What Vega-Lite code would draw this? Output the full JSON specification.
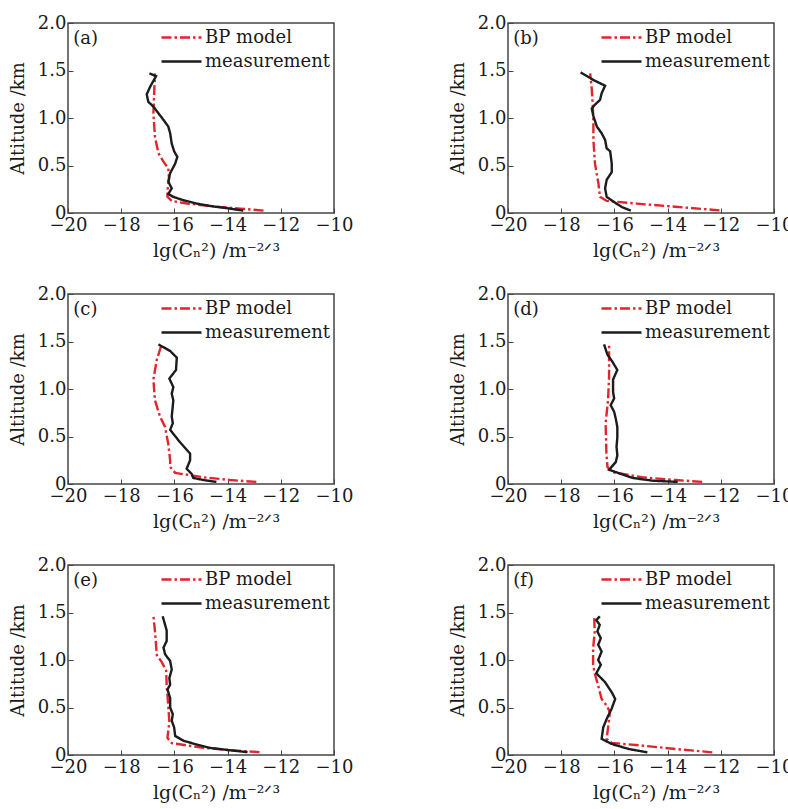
{
  "$schema": "https://vega.github.io/schema/vega-lite/v6.json",
  "padding": {"left": 8, "top": 13, "right": 5, "bottom": 5},
  "background": "white",
  "bounds": "flush",
  "columns": 2,
  "spacing": {"row": 81, "column": 174},
  "data": {"values": [
    {"p":"a","s":"BP model","alt":1.47,"x":-16.73},
    {"p":"a","s":"BP model","alt":1.05,"x":-16.79},
    {"p":"a","s":"BP model","alt":0.80,"x":-16.73},
    {"p":"a","s":"BP model","alt":0.63,"x":-16.60},
    {"p":"a","s":"BP model","alt":0.54,"x":-16.41},
    {"p":"a","s":"BP model","alt":0.47,"x":-16.23},
    {"p":"a","s":"BP model","alt":0.36,"x":-16.20},
    {"p":"a","s":"BP model","alt":0.24,"x":-16.26},
    {"p":"a","s":"BP model","alt":0.17,"x":-16.26},
    {"p":"a","s":"BP model","alt":0.127,"x":-16.10},
    {"p":"a","s":"BP model","alt":0.10,"x":-15.54},
    {"p":"a","s":"BP model","alt":0.063,"x":-14.28},
    {"p":"a","s":"BP model","alt":0.046,"x":-13.53},
    {"p":"a","s":"BP model","alt":0.025,"x":-12.65},
    {"p":"a","s":"measurement","alt":1.47,"x":-16.94},
    {"p":"a","s":"measurement","alt":1.44,"x":-16.69},
    {"p":"a","s":"measurement","alt":1.33,"x":-16.91},
    {"p":"a","s":"measurement","alt":1.25,"x":-17.04},
    {"p":"a","s":"measurement","alt":1.17,"x":-16.98},
    {"p":"a","s":"measurement","alt":1.12,"x":-16.79},
    {"p":"a","s":"measurement","alt":1.05,"x":-16.60},
    {"p":"a","s":"measurement","alt":0.98,"x":-16.41},
    {"p":"a","s":"measurement","alt":0.91,"x":-16.23},
    {"p":"a","s":"measurement","alt":0.84,"x":-16.16},
    {"p":"a","s":"measurement","alt":0.73,"x":-16.10},
    {"p":"a","s":"measurement","alt":0.65,"x":-16.01},
    {"p":"a","s":"measurement","alt":0.59,"x":-15.89},
    {"p":"a","s":"measurement","alt":0.52,"x":-15.97},
    {"p":"a","s":"measurement","alt":0.42,"x":-16.16},
    {"p":"a","s":"measurement","alt":0.33,"x":-16.23},
    {"p":"a","s":"measurement","alt":0.26,"x":-16.10},
    {"p":"a","s":"measurement","alt":0.20,"x":-16.23},
    {"p":"a","s":"measurement","alt":0.17,"x":-16.04},
    {"p":"a","s":"measurement","alt":0.134,"x":-15.66},
    {"p":"a","s":"measurement","alt":0.099,"x":-15.16},
    {"p":"a","s":"measurement","alt":0.074,"x":-14.66},
    {"p":"a","s":"measurement","alt":0.046,"x":-13.91},
    {"p":"a","s":"measurement","alt":0.025,"x":-13.41},

    {"p":"b","s":"BP model","alt":1.47,"x":-16.91},
    {"p":"b","s":"BP model","alt":1.30,"x":-16.85},
    {"p":"b","s":"BP model","alt":1.12,"x":-16.81},
    {"p":"b","s":"BP model","alt":0.95,"x":-16.79},
    {"p":"b","s":"BP model","alt":0.77,"x":-16.79},
    {"p":"b","s":"BP model","alt":0.52,"x":-16.73},
    {"p":"b","s":"BP model","alt":0.31,"x":-16.60},
    {"p":"b","s":"BP model","alt":0.17,"x":-16.54},
    {"p":"b","s":"BP model","alt":0.127,"x":-16.29},
    {"p":"b","s":"BP model","alt":0.099,"x":-15.16},
    {"p":"b","s":"BP model","alt":0.07,"x":-13.91},
    {"p":"b","s":"BP model","alt":0.028,"x":-12.05},
    {"p":"b","s":"measurement","alt":1.48,"x":-17.27},
    {"p":"b","s":"measurement","alt":1.40,"x":-16.79},
    {"p":"b","s":"measurement","alt":1.34,"x":-16.35},
    {"p":"b","s":"measurement","alt":1.26,"x":-16.48},
    {"p":"b","s":"measurement","alt":1.19,"x":-16.54},
    {"p":"b","s":"measurement","alt":1.14,"x":-16.73},
    {"p":"b","s":"measurement","alt":1.10,"x":-16.85},
    {"p":"b","s":"measurement","alt":1.02,"x":-16.79},
    {"p":"b","s":"measurement","alt":0.91,"x":-16.66},
    {"p":"b","s":"measurement","alt":0.84,"x":-16.48},
    {"p":"b","s":"measurement","alt":0.77,"x":-16.35},
    {"p":"b","s":"measurement","alt":0.68,"x":-16.29},
    {"p":"b","s":"measurement","alt":0.65,"x":-16.16},
    {"p":"b","s":"measurement","alt":0.52,"x":-16.10},
    {"p":"b","s":"measurement","alt":0.43,"x":-16.10},
    {"p":"b","s":"measurement","alt":0.35,"x":-16.29},
    {"p":"b","s":"measurement","alt":0.26,"x":-16.35},
    {"p":"b","s":"measurement","alt":0.17,"x":-16.29},
    {"p":"b","s":"measurement","alt":0.12,"x":-16.04},
    {"p":"b","s":"measurement","alt":0.063,"x":-15.72},
    {"p":"b","s":"measurement","alt":0.025,"x":-15.38},

    {"p":"c","s":"BP model","alt":1.47,"x":-16.48},
    {"p":"c","s":"BP model","alt":1.31,"x":-16.66},
    {"p":"c","s":"BP model","alt":1.10,"x":-16.79},
    {"p":"c","s":"BP model","alt":0.88,"x":-16.73},
    {"p":"c","s":"BP model","alt":0.71,"x":-16.54},
    {"p":"c","s":"BP model","alt":0.60,"x":-16.35},
    {"p":"c","s":"BP model","alt":0.42,"x":-16.23},
    {"p":"c","s":"BP model","alt":0.25,"x":-16.16},
    {"p":"c","s":"BP model","alt":0.18,"x":-16.16},
    {"p":"c","s":"BP model","alt":0.117,"x":-15.97},
    {"p":"c","s":"BP model","alt":0.071,"x":-14.91},
    {"p":"c","s":"BP model","alt":0.042,"x":-13.91},
    {"p":"c","s":"BP model","alt":0.022,"x":-12.92},
    {"p":"c","s":"measurement","alt":1.47,"x":-16.60},
    {"p":"c","s":"measurement","alt":1.40,"x":-16.16},
    {"p":"c","s":"measurement","alt":1.33,"x":-15.91},
    {"p":"c","s":"measurement","alt":1.20,"x":-15.94},
    {"p":"c","s":"measurement","alt":1.11,"x":-16.19},
    {"p":"c","s":"measurement","alt":1.02,"x":-16.04},
    {"p":"c","s":"measurement","alt":0.95,"x":-16.10},
    {"p":"c","s":"measurement","alt":0.88,"x":-16.04},
    {"p":"c","s":"measurement","alt":0.71,"x":-16.10},
    {"p":"c","s":"measurement","alt":0.64,"x":-16.06},
    {"p":"c","s":"measurement","alt":0.57,"x":-16.16},
    {"p":"c","s":"measurement","alt":0.44,"x":-15.79},
    {"p":"c","s":"measurement","alt":0.32,"x":-15.41},
    {"p":"c","s":"measurement","alt":0.25,"x":-15.41},
    {"p":"c","s":"measurement","alt":0.16,"x":-15.54},
    {"p":"c","s":"measurement","alt":0.106,"x":-15.35},
    {"p":"c","s":"measurement","alt":0.064,"x":-15.29},
    {"p":"c","s":"measurement","alt":0.042,"x":-14.91},
    {"p":"c","s":"measurement","alt":0.022,"x":-14.42},

    {"p":"d","s":"BP model","alt":1.48,"x":-16.20},
    {"p":"d","s":"BP model","alt":1.13,"x":-16.20},
    {"p":"d","s":"BP model","alt":0.88,"x":-16.24},
    {"p":"d","s":"BP model","alt":0.64,"x":-16.33},
    {"p":"d","s":"BP model","alt":0.32,"x":-16.30},
    {"p":"d","s":"BP model","alt":0.18,"x":-16.26},
    {"p":"d","s":"BP model","alt":0.124,"x":-16.08},
    {"p":"d","s":"BP model","alt":0.071,"x":-14.95},
    {"p":"d","s":"BP model","alt":0.042,"x":-13.69},
    {"p":"d","s":"BP model","alt":0.022,"x":-12.70},
    {"p":"d","s":"measurement","alt":1.47,"x":-16.39},
    {"p":"d","s":"measurement","alt":1.36,"x":-16.26},
    {"p":"d","s":"measurement","alt":1.29,"x":-16.08},
    {"p":"d","s":"measurement","alt":1.20,"x":-15.89},
    {"p":"d","s":"measurement","alt":1.10,"x":-16.05},
    {"p":"d","s":"measurement","alt":0.97,"x":-16.05},
    {"p":"d","s":"measurement","alt":0.90,"x":-16.01},
    {"p":"d","s":"measurement","alt":0.83,"x":-16.14},
    {"p":"d","s":"measurement","alt":0.76,"x":-16.01},
    {"p":"d","s":"measurement","alt":0.69,"x":-15.95},
    {"p":"d","s":"measurement","alt":0.60,"x":-15.89},
    {"p":"d","s":"measurement","alt":0.49,"x":-15.89},
    {"p":"d","s":"measurement","alt":0.39,"x":-15.92},
    {"p":"d","s":"measurement","alt":0.30,"x":-15.89},
    {"p":"d","s":"measurement","alt":0.23,"x":-15.95},
    {"p":"d","s":"measurement","alt":0.15,"x":-16.20},
    {"p":"d","s":"measurement","alt":0.113,"x":-15.82},
    {"p":"d","s":"measurement","alt":0.064,"x":-15.32},
    {"p":"d","s":"measurement","alt":0.035,"x":-14.57},
    {"p":"d","s":"measurement","alt":0.022,"x":-13.62},

    {"p":"e","s":"BP model","alt":1.47,"x":-16.79},
    {"p":"e","s":"BP model","alt":1.30,"x":-16.73},
    {"p":"e","s":"BP model","alt":1.05,"x":-16.66},
    {"p":"e","s":"BP model","alt":0.98,"x":-16.48},
    {"p":"e","s":"BP model","alt":0.89,"x":-16.31},
    {"p":"e","s":"BP model","alt":0.73,"x":-16.29},
    {"p":"e","s":"BP model","alt":0.52,"x":-16.23},
    {"p":"e","s":"BP model","alt":0.35,"x":-16.19},
    {"p":"e","s":"BP model","alt":0.18,"x":-16.26},
    {"p":"e","s":"BP model","alt":0.125,"x":-16.10},
    {"p":"e","s":"BP model","alt":0.075,"x":-14.91},
    {"p":"e","s":"BP model","alt":0.048,"x":-13.78},
    {"p":"e","s":"BP model","alt":0.03,"x":-12.80},
    {"p":"e","s":"measurement","alt":1.46,"x":-16.44},
    {"p":"e","s":"measurement","alt":1.31,"x":-16.29},
    {"p":"e","s":"measurement","alt":1.20,"x":-16.29},
    {"p":"e","s":"measurement","alt":1.13,"x":-16.41},
    {"p":"e","s":"measurement","alt":1.06,"x":-16.35},
    {"p":"e","s":"measurement","alt":0.99,"x":-16.16},
    {"p":"e","s":"measurement","alt":0.90,"x":-16.10},
    {"p":"e","s":"measurement","alt":0.81,"x":-16.19},
    {"p":"e","s":"measurement","alt":0.74,"x":-16.16},
    {"p":"e","s":"measurement","alt":0.69,"x":-16.26},
    {"p":"e","s":"measurement","alt":0.60,"x":-16.16},
    {"p":"e","s":"measurement","alt":0.50,"x":-16.16},
    {"p":"e","s":"measurement","alt":0.43,"x":-16.06},
    {"p":"e","s":"measurement","alt":0.36,"x":-16.10},
    {"p":"e","s":"measurement","alt":0.29,"x":-16.01},
    {"p":"e","s":"measurement","alt":0.20,"x":-15.97},
    {"p":"e","s":"measurement","alt":0.15,"x":-15.66},
    {"p":"e","s":"measurement","alt":0.11,"x":-15.16},
    {"p":"e","s":"measurement","alt":0.075,"x":-14.66},
    {"p":"e","s":"measurement","alt":0.05,"x":-13.91},
    {"p":"e","s":"measurement","alt":0.03,"x":-13.25},

    {"p":"f","s":"BP model","alt":1.46,"x":-16.76},
    {"p":"f","s":"BP model","alt":1.30,"x":-16.74},
    {"p":"f","s":"BP model","alt":1.12,"x":-16.80},
    {"p":"f","s":"BP model","alt":0.95,"x":-16.80},
    {"p":"f","s":"BP model","alt":0.86,"x":-16.74},
    {"p":"f","s":"BP model","alt":0.73,"x":-16.61},
    {"p":"f","s":"BP model","alt":0.59,"x":-16.48},
    {"p":"f","s":"BP model","alt":0.52,"x":-16.29},
    {"p":"f","s":"BP model","alt":0.45,"x":-16.17},
    {"p":"f","s":"BP model","alt":0.31,"x":-16.23},
    {"p":"f","s":"BP model","alt":0.17,"x":-16.29},
    {"p":"f","s":"BP model","alt":0.127,"x":-16.10},
    {"p":"f","s":"BP model","alt":0.099,"x":-14.96},
    {"p":"f","s":"BP model","alt":0.063,"x":-13.68},
    {"p":"f","s":"BP model","alt":0.028,"x":-12.32},
    {"p":"f","s":"measurement","alt":1.46,"x":-16.55},
    {"p":"f","s":"measurement","alt":1.42,"x":-16.68},
    {"p":"f","s":"measurement","alt":1.37,"x":-16.55},
    {"p":"f","s":"measurement","alt":1.30,"x":-16.64},
    {"p":"f","s":"measurement","alt":1.23,"x":-16.51},
    {"p":"f","s":"measurement","alt":1.16,"x":-16.61},
    {"p":"f","s":"measurement","alt":1.09,"x":-16.48},
    {"p":"f","s":"measurement","alt":1.00,"x":-16.61},
    {"p":"f","s":"measurement","alt":0.95,"x":-16.51},
    {"p":"f","s":"measurement","alt":0.86,"x":-16.68},
    {"p":"f","s":"measurement","alt":0.77,"x":-16.36},
    {"p":"f","s":"measurement","alt":0.66,"x":-16.10},
    {"p":"f","s":"measurement","alt":0.59,"x":-15.97},
    {"p":"f","s":"measurement","alt":0.49,"x":-16.10},
    {"p":"f","s":"measurement","alt":0.38,"x":-16.29},
    {"p":"f","s":"measurement","alt":0.29,"x":-16.42},
    {"p":"f","s":"measurement","alt":0.17,"x":-16.48},
    {"p":"f","s":"measurement","alt":0.116,"x":-16.10},
    {"p":"f","s":"measurement","alt":0.063,"x":-15.46},
    {"p":"f","s":"measurement","alt":0.028,"x":-14.76}
  ]},
  "resolve": {
    "scale": {"color": "independent", "strokeDash": "independent"},
    "legend": {"color": "independent", "strokeDash": "independent"}
  },
  "concat": [
    {"width": 266, "height": 190, "layer": [
      {"transform": [{"filter": "datum.p === 'a'"}], "mark": {"type": "line", "strokeWidth": 2.4},
       "encoding": {
        "x": {"field": "x", "type": "quantitative", "scale": {"domain": [-20, -10], "nice": false}, "axis": {"values": [-20, -18, -16, -14, -12, -10], "title": "lg(Cₙ²)  /m⁻²ᐟ³"}},
        "y": {"field": "alt", "type": "quantitative", "scale": {"domain": [0, 2], "nice": false}, "axis": {"values": [0, 0.5, 1, 1.5, 2], "labelExpr": "datum.value === 0 ? '0' : format(datum.value, '.1f')", "title": "Altitude /km"}},
        "color": {"field": "s", "type": "nominal", "title": null, "scale": {"domain": ["BP model", "measurement"], "range": ["#e2242c", "#1c1c1c"]}},
        "strokeDash": {"field": "s", "type": "nominal", "title": null, "scale": {"domain": ["BP model", "measurement"], "range": [[10, 3, 2.5, 3], [1, 0]]}},
        "order": {"field": "alt", "type": "quantitative"}}},
      {"data": {"values": [{"label": "(a)"}]}, "mark": {"type": "text", "align": "left", "baseline": "middle", "fontSize": 18, "font": "DejaVu Serif", "color": "#1a1a1a"},
       "encoding": {"x": {"datum": -19.8}, "y": {"datum": 1.83}, "text": {"field": "label"}}}
    ]},
    {"width": 266, "height": 190, "layer": [
      {"transform": [{"filter": "datum.p === 'b'"}], "mark": {"type": "line", "strokeWidth": 2.4},
       "encoding": {
        "x": {"field": "x", "type": "quantitative", "scale": {"domain": [-20, -10], "nice": false}, "axis": {"values": [-20, -18, -16, -14, -12, -10], "title": "lg(Cₙ²)  /m⁻²ᐟ³"}},
        "y": {"field": "alt", "type": "quantitative", "scale": {"domain": [0, 2], "nice": false}, "axis": {"values": [0, 0.5, 1, 1.5, 2], "labelExpr": "datum.value === 0 ? '0' : format(datum.value, '.1f')", "title": "Altitude /km"}},
        "color": {"field": "s", "type": "nominal", "title": null, "scale": {"domain": ["BP model", "measurement"], "range": ["#e2242c", "#1c1c1c"]}},
        "strokeDash": {"field": "s", "type": "nominal", "title": null, "scale": {"domain": ["BP model", "measurement"], "range": [[10, 3, 2.5, 3], [1, 0]]}},
        "order": {"field": "alt", "type": "quantitative"}}},
      {"data": {"values": [{"label": "(b)"}]}, "mark": {"type": "text", "align": "left", "baseline": "middle", "fontSize": 18, "font": "DejaVu Serif", "color": "#1a1a1a"},
       "encoding": {"x": {"datum": -19.8}, "y": {"datum": 1.83}, "text": {"field": "label"}}}
    ]},
    {"width": 266, "height": 190, "layer": [
      {"transform": [{"filter": "datum.p === 'c'"}], "mark": {"type": "line", "strokeWidth": 2.4},
       "encoding": {
        "x": {"field": "x", "type": "quantitative", "scale": {"domain": [-20, -10], "nice": false}, "axis": {"values": [-20, -18, -16, -14, -12, -10], "title": "lg(Cₙ²)  /m⁻²ᐟ³"}},
        "y": {"field": "alt", "type": "quantitative", "scale": {"domain": [0, 2], "nice": false}, "axis": {"values": [0, 0.5, 1, 1.5, 2], "labelExpr": "datum.value === 0 ? '0' : format(datum.value, '.1f')", "title": "Altitude /km"}},
        "color": {"field": "s", "type": "nominal", "title": null, "scale": {"domain": ["BP model", "measurement"], "range": ["#e2242c", "#1c1c1c"]}},
        "strokeDash": {"field": "s", "type": "nominal", "title": null, "scale": {"domain": ["BP model", "measurement"], "range": [[10, 3, 2.5, 3], [1, 0]]}},
        "order": {"field": "alt", "type": "quantitative"}}},
      {"data": {"values": [{"label": "(c)"}]}, "mark": {"type": "text", "align": "left", "baseline": "middle", "fontSize": 18, "font": "DejaVu Serif", "color": "#1a1a1a"},
       "encoding": {"x": {"datum": -19.8}, "y": {"datum": 1.83}, "text": {"field": "label"}}}
    ]},
    {"width": 266, "height": 190, "layer": [
      {"transform": [{"filter": "datum.p === 'd'"}], "mark": {"type": "line", "strokeWidth": 2.4},
       "encoding": {
        "x": {"field": "x", "type": "quantitative", "scale": {"domain": [-20, -10], "nice": false}, "axis": {"values": [-20, -18, -16, -14, -12, -10], "title": "lg(Cₙ²)  /m⁻²ᐟ³"}},
        "y": {"field": "alt", "type": "quantitative", "scale": {"domain": [0, 2], "nice": false}, "axis": {"values": [0, 0.5, 1, 1.5, 2], "labelExpr": "datum.value === 0 ? '0' : format(datum.value, '.1f')", "title": "Altitude /km"}},
        "color": {"field": "s", "type": "nominal", "title": null, "scale": {"domain": ["BP model", "measurement"], "range": ["#e2242c", "#1c1c1c"]}},
        "strokeDash": {"field": "s", "type": "nominal", "title": null, "scale": {"domain": ["BP model", "measurement"], "range": [[10, 3, 2.5, 3], [1, 0]]}},
        "order": {"field": "alt", "type": "quantitative"}}},
      {"data": {"values": [{"label": "(d)"}]}, "mark": {"type": "text", "align": "left", "baseline": "middle", "fontSize": 18, "font": "DejaVu Serif", "color": "#1a1a1a"},
       "encoding": {"x": {"datum": -19.8}, "y": {"datum": 1.83}, "text": {"field": "label"}}}
    ]},
    {"width": 266, "height": 190, "layer": [
      {"transform": [{"filter": "datum.p === 'e'"}], "mark": {"type": "line", "strokeWidth": 2.4},
       "encoding": {
        "x": {"field": "x", "type": "quantitative", "scale": {"domain": [-20, -10], "nice": false}, "axis": {"values": [-20, -18, -16, -14, -12, -10], "title": "lg(Cₙ²)  /m⁻²ᐟ³"}},
        "y": {"field": "alt", "type": "quantitative", "scale": {"domain": [0, 2], "nice": false}, "axis": {"values": [0, 0.5, 1, 1.5, 2], "labelExpr": "datum.value === 0 ? '0' : format(datum.value, '.1f')", "title": "Altitude /km"}},
        "color": {"field": "s", "type": "nominal", "title": null, "scale": {"domain": ["BP model", "measurement"], "range": ["#e2242c", "#1c1c1c"]}},
        "strokeDash": {"field": "s", "type": "nominal", "title": null, "scale": {"domain": ["BP model", "measurement"], "range": [[10, 3, 2.5, 3], [1, 0]]}},
        "order": {"field": "alt", "type": "quantitative"}}},
      {"data": {"values": [{"label": "(e)"}]}, "mark": {"type": "text", "align": "left", "baseline": "middle", "fontSize": 18, "font": "DejaVu Serif", "color": "#1a1a1a"},
       "encoding": {"x": {"datum": -19.8}, "y": {"datum": 1.83}, "text": {"field": "label"}}}
    ]},
    {"width": 266, "height": 190, "layer": [
      {"transform": [{"filter": "datum.p === 'f'"}], "mark": {"type": "line", "strokeWidth": 2.4},
       "encoding": {
        "x": {"field": "x", "type": "quantitative", "scale": {"domain": [-20, -10], "nice": false}, "axis": {"values": [-20, -18, -16, -14, -12, -10], "title": "lg(Cₙ²)  /m⁻²ᐟ³"}},
        "y": {"field": "alt", "type": "quantitative", "scale": {"domain": [0, 2], "nice": false}, "axis": {"values": [0, 0.5, 1, 1.5, 2], "labelExpr": "datum.value === 0 ? '0' : format(datum.value, '.1f')", "title": "Altitude /km"}},
        "color": {"field": "s", "type": "nominal", "title": null, "scale": {"domain": ["BP model", "measurement"], "range": ["#e2242c", "#1c1c1c"]}},
        "strokeDash": {"field": "s", "type": "nominal", "title": null, "scale": {"domain": ["BP model", "measurement"], "range": [[10, 3, 2.5, 3], [1, 0]]}},
        "order": {"field": "alt", "type": "quantitative"}}},
      {"data": {"values": [{"label": "(f)"}]}, "mark": {"type": "text", "align": "left", "baseline": "middle", "fontSize": 18, "font": "DejaVu Serif", "color": "#1a1a1a"},
       "encoding": {"x": {"datum": -19.8}, "y": {"datum": 1.83}, "text": {"field": "label"}}}
    ]}
  ],
  "config": {
    "view": {"stroke": "#444", "strokeWidth": 1.5},
    "axis": {
      "domain": false, "grid": false, "ticks": true, "tickSize": -5, "tickColor": "#444", "tickWidth": 1,
      "labelFont": "DejaVu Serif", "labelFontSize": 18, "labelColor": "#1a1a1a", "labelPadding": 7,
      "labelFlush": false, "labelOverlap": false, "labelBound": false,
      "titleFont": "DejaVu Serif", "titleFontSize": 18, "titleFontWeight": "normal", "titleColor": "#1a1a1a"
    },
    "axisX": {"titlePadding": 7, "titleFontSize": 19, "titleX": 148, "labelPadding": 8},
    "axisY": {"titlePadding": 10},
    "legend": {
      "orient": "top-right", "offset": 3, "padding": 0,
      "labelFont": "DejaVu Serif", "labelFontSize": 18, "labelColor": "#1a1a1a",
      "symbolType": "M-2,0H2", "symbolSize": 400, "symbolStrokeWidth": 2.4,
      "labelOffset": 12, "rowPadding": 3
    }
  }
}
